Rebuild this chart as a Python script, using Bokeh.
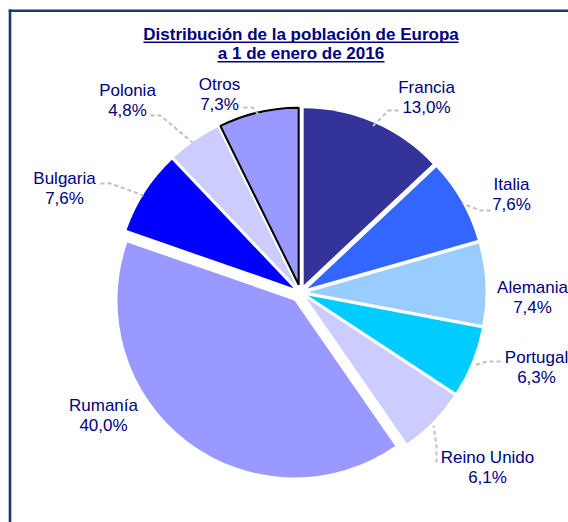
import math
from bokeh.plotting import figure
from bokeh.models import Range1d, ColumnDataSource
from bokeh.core.properties import value
from bokeh.embed import file_html
from bokeh.resources import INLINE

# ---- data ----
countries = ["Francia", "Italia", "Alemania", "Portugal", "Reino Unido",
             "Rumanía", "Bulgaria", "Polonia", "Otros"]
shares = [13.0, 7.6, 7.4, 6.3, 6.1, 40.0, 7.6, 4.8, 7.3]
colors = ["#333399", "#3366FF", "#99CCFF", "#00CCFF", "#CCCCFF",
          "#9999FF", "#0000FF", "#CCCCFF", "#9999FF"]
title_lines = ["Distribución de la población de Europa", "a 1 de enero de 2016"]

# ---- layout (page pixel coordinates) ----
W, H = 568, 522
def X(px):
    return px
def Y(py):
    return H - py

cx, cy, R = 300, 292, 177
explode = [8, 8, 8, 8, 8, 10, 8, 8, 8]
# label centres (name line); percentage line is 20px lower
label_pos = [(426, 87), (511, 184), (532, 287), (536, 357), (487, 457),
             (103, 405), (64, 178), (127, 90), (219, 84)]
leaders = {
    "Francia": [(398, 110), (388, 110), (372, 126)],
    "Italia": [(490, 210), (480, 210), (462, 203)],
    "Portugal": [(500, 361), (487, 361), (473, 365)],
    "Reino Unido": [(436, 462), (436, 445), (433, 425)],
    "Bulgaria": [(100, 183), (110, 183), (143, 195)],
    "Polonia": [(150, 115), (160, 115), (192, 142)],
    "Otros": [(243, 107), (252, 107), (258, 114)],
}

FONT = "Liberation Sans"
TXT = "#000080"

p = figure(width=W, height=H, x_range=Range1d(0, W), y_range=Range1d(0, H),
           output_backend="svg", toolbar_location=None, min_border=0,
           background_fill_color="white", border_fill_color="white")
p.axis.visible = False
p.grid.visible = False
p.outline_line_color = None

# frame (left and top edges visible)
p.segment(x0=[X(9.5), X(8.2)], y0=[Y(530), Y(10.3)],
          x1=[X(9.5), X(580)], y1=[Y(9), Y(10.3)],
          line_color="#1F3864", line_width=2.6)

# pie slices
total = sum(shares)
cum = 0.0
xs, ys, starts, ends, lcol, lw = [], [], [], [], [], []
for i, s in enumerate(shares):
    c0 = cum / total
    c1 = (cum + s) / total
    cum += s
    a0 = math.pi / 2 - 2 * math.pi * c0
    a1 = math.pi / 2 - 2 * math.pi * c1
    am = (a0 + a1) / 2
    e = explode[i]
    xs.append(X(cx) + e * math.cos(am))
    ys.append(Y(cy) + e * math.sin(am))
    starts.append(a1)
    ends.append(a0)
    if countries[i] == "Otros":
        lcol.append("black"); lw.append(2)
    else:
        lcol.append(None); lw.append(0)

src = ColumnDataSource(dict(x=xs, y=ys, s=starts, e=ends, c=colors,
                            lc=lcol, lw=lw))
p.wedge(x="x", y="y", radius=R, start_angle="s", end_angle="e",
        direction="anticlock", fill_color="c", line_color="lc",
        line_width="lw", source=src)

# leader lines
lx, ly = [], []
for k, pts in leaders.items():
    lx.append([X(a) for a, b in pts])
    ly.append([Y(b) for a, b in pts])
p.multi_line(xs=lx, ys=ly, line_color="#BFBFBF", line_width=2,
             line_dash="4 3")

# labels
pct = [f"{v:.1f}".replace(".", ",") + "%" for v in shares]
p.text(x=[X(a) for a, b in label_pos], y=[Y(b) for a, b in label_pos],
       text=countries, text_align="center", text_baseline="middle",
       text_font=value(FONT), text_font_size="17px", text_color=TXT)
p.text(x=[X(a) for a, b in label_pos], y=[Y(b + 20) for a, b in label_pos],
       text=pct, text_align="center", text_baseline="middle",
       text_font=value(FONT), text_font_size="17px", text_color=TXT)

# title with underlines
p.text(x=[X(300.5), X(300.5)], y=[Y(33.5), Y(53)], text=title_lines,
       text_align="center", text_baseline="middle",
       text_font=value(FONT), text_font_size="17px", text_font_style="bold",
       text_color=TXT)
p.segment(x0=[X(143), X(217)], y0=[Y(41.8), Y(61.3)],
          x1=[X(458), X(384)], y1=[Y(41.8), Y(61.3)],
          line_color=TXT, line_width=1.6)

open("out.html", "w").write(file_html(p, INLINE))
